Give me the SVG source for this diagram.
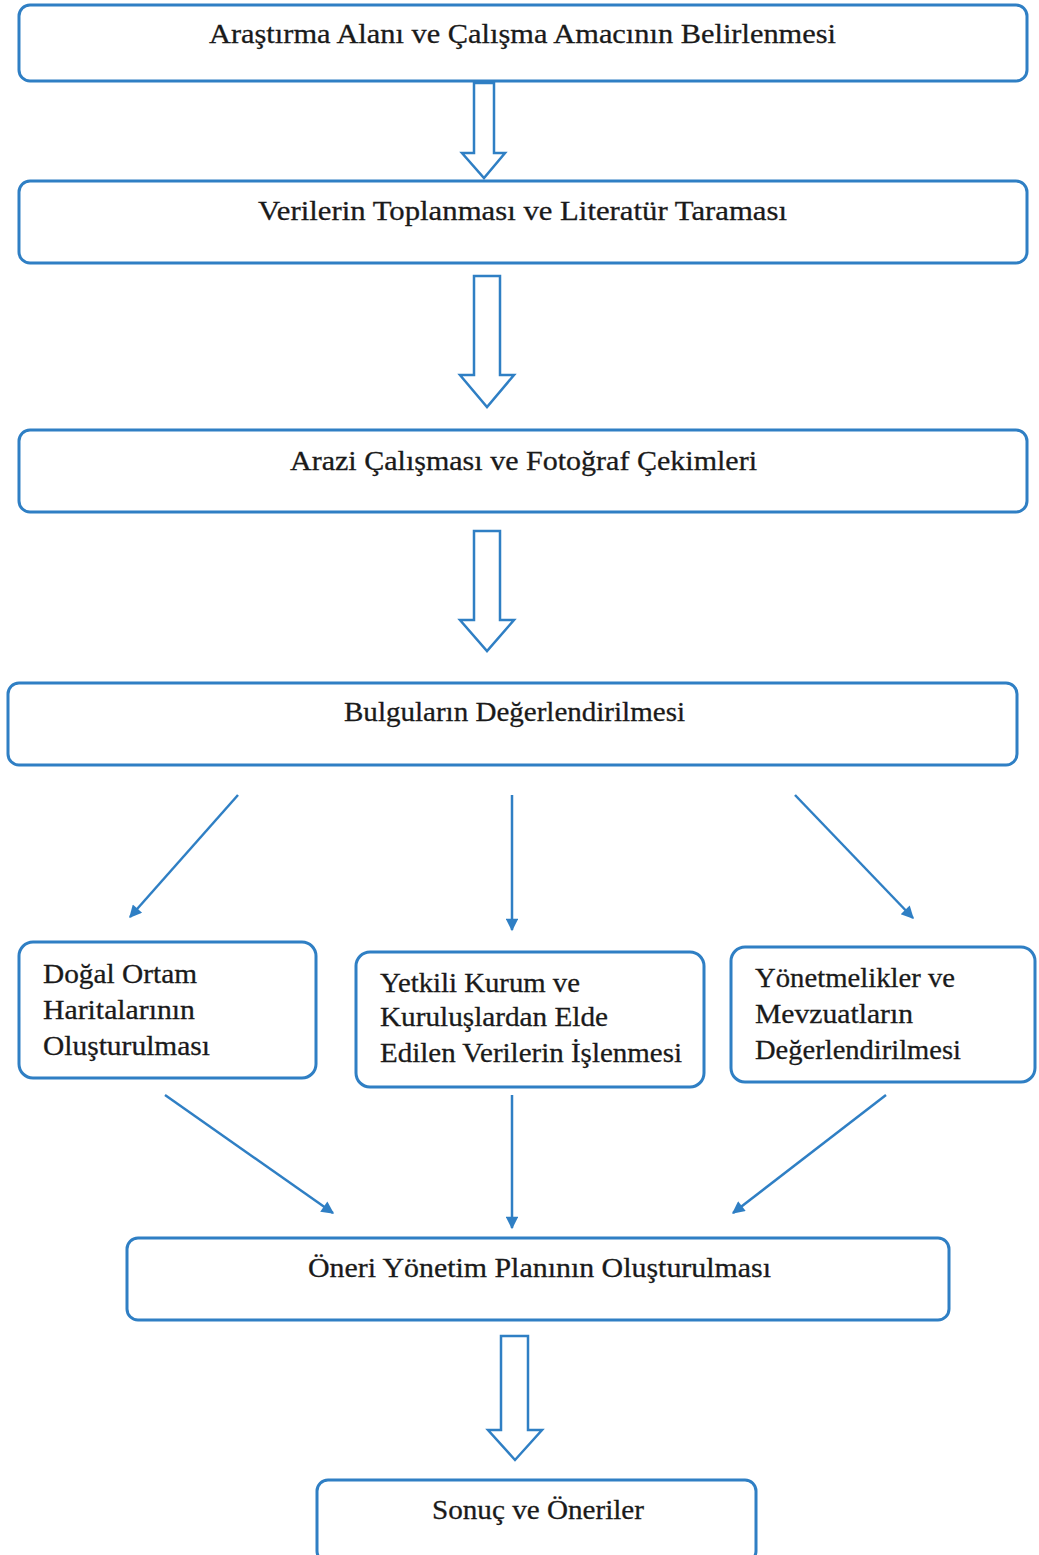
<svg xmlns="http://www.w3.org/2000/svg" width="1039" height="1555" viewBox="0 0 1039 1555">
<style>
.box{fill:#fff;stroke:#2f7fc4;stroke-width:3}
.big{fill:#fff;stroke:#2f7fc4;stroke-width:2.5;stroke-linejoin:miter}
.ln{stroke:#2f7fc4;stroke-width:2.5;fill:none}
text{font-family:"Liberation Serif","Times New Roman",serif;font-size:28px;fill:#1a1a1a;stroke:#1a1a1a;stroke-width:0.3}
</style>
<defs>
<marker id="ah" viewBox="0 0 10 10" refX="9" refY="5" markerWidth="6" markerHeight="5" orient="auto" markerUnits="strokeWidth">
<path d="M0,0 L10,5 L0,10 z" fill="#2f7fc4"/>
</marker>
</defs>
<rect width="1039" height="1555" fill="#fff"/>
<g id="connectors">
<path class="big" d="M474,83 L494,83 L494,153 L505,153 L484,178 L462,153 L474,153 z"/>
<path class="big" d="M474,276 L500,276 L500,375 L514,375 L487,407 L460,375 L474,375 z"/>
<path class="big" d="M474,531 L500,531 L500,620 L514,620 L487,651 L460,620 L474,620 z"/>
<path class="big" d="M501,1336 L528,1336 L528,1430 L542,1430 L515,1460 L488,1430 L501,1430 z"/>
<line class="ln" x1="238" y1="795" x2="130" y2="917" marker-end="url(#ah)"/>
<line class="ln" x1="512" y1="795" x2="512" y2="930" marker-end="url(#ah)"/>
<line class="ln" x1="795" y1="795" x2="913" y2="918" marker-end="url(#ah)"/>
<line class="ln" x1="165" y1="1095" x2="333" y2="1213" marker-end="url(#ah)"/>
<line class="ln" x1="512" y1="1095" x2="512" y2="1228" marker-end="url(#ah)"/>
<line class="ln" x1="886" y1="1095" x2="733" y2="1213" marker-end="url(#ah)"/>
</g>
<g id="n1">
<rect class="box" x="19" y="5" width="1008" height="76" rx="11"/>
<text x="209" y="43" textLength="627" lengthAdjust="spacingAndGlyphs">Araştırma Alanı ve Çalışma Amacının Belirlenmesi</text>
</g>
<g id="n2">
<rect class="box" x="19" y="181" width="1008" height="82" rx="11"/>
<text x="258" y="220" textLength="529" lengthAdjust="spacingAndGlyphs">Verilerin Toplanması ve Literatür Taraması</text>
</g>
<g id="n3">
<rect class="box" x="19" y="430" width="1008" height="82" rx="11"/>
<text x="290" y="470" textLength="467" lengthAdjust="spacingAndGlyphs">Arazi Çalışması ve Fotoğraf Çekimleri</text>
</g>
<g id="n4">
<rect class="box" x="8" y="683" width="1009" height="82" rx="11"/>
<text x="344" y="721" textLength="341" lengthAdjust="spacingAndGlyphs">Bulguların Değerlendirilmesi</text>
</g>
<g id="n5">
<rect class="box" x="19" y="942" width="297" height="136" rx="14"/>
<text x="43" y="983" textLength="154" lengthAdjust="spacingAndGlyphs">Doğal Ortam</text>
<text x="43" y="1019" textLength="152" lengthAdjust="spacingAndGlyphs">Haritalarının</text>
<text x="43" y="1055" textLength="167" lengthAdjust="spacingAndGlyphs">Oluşturulması</text>
</g>
<g id="n6">
<rect class="box" x="356" y="952" width="348" height="135" rx="14"/>
<text x="380" y="992" textLength="200" lengthAdjust="spacingAndGlyphs">Yetkili Kurum ve</text>
<text x="380" y="1026" textLength="228" lengthAdjust="spacingAndGlyphs">Kuruluşlardan Elde</text>
<text x="380" y="1062" textLength="302" lengthAdjust="spacingAndGlyphs">Edilen Verilerin İşlenmesi</text>
</g>
<g id="n7">
<rect class="box" x="731" y="947" width="304" height="135" rx="14"/>
<text x="755" y="987" textLength="200" lengthAdjust="spacingAndGlyphs">Yönetmelikler ve</text>
<text x="755" y="1023" textLength="158" lengthAdjust="spacingAndGlyphs">Mevzuatların</text>
<text x="755" y="1059" textLength="206" lengthAdjust="spacingAndGlyphs">Değerlendirilmesi</text>
</g>
<g id="n8">
<rect class="box" x="127" y="1238" width="822" height="82" rx="11"/>
<text x="308" y="1277" textLength="463" lengthAdjust="spacingAndGlyphs">Öneri Yönetim Planının Oluşturulması</text>
</g>
<g id="n9">
<rect class="box" x="317" y="1480" width="439" height="82" rx="11"/>
<text x="432" y="1519" textLength="212" lengthAdjust="spacingAndGlyphs">Sonuç ve Öneriler</text>
</g>
</svg>
